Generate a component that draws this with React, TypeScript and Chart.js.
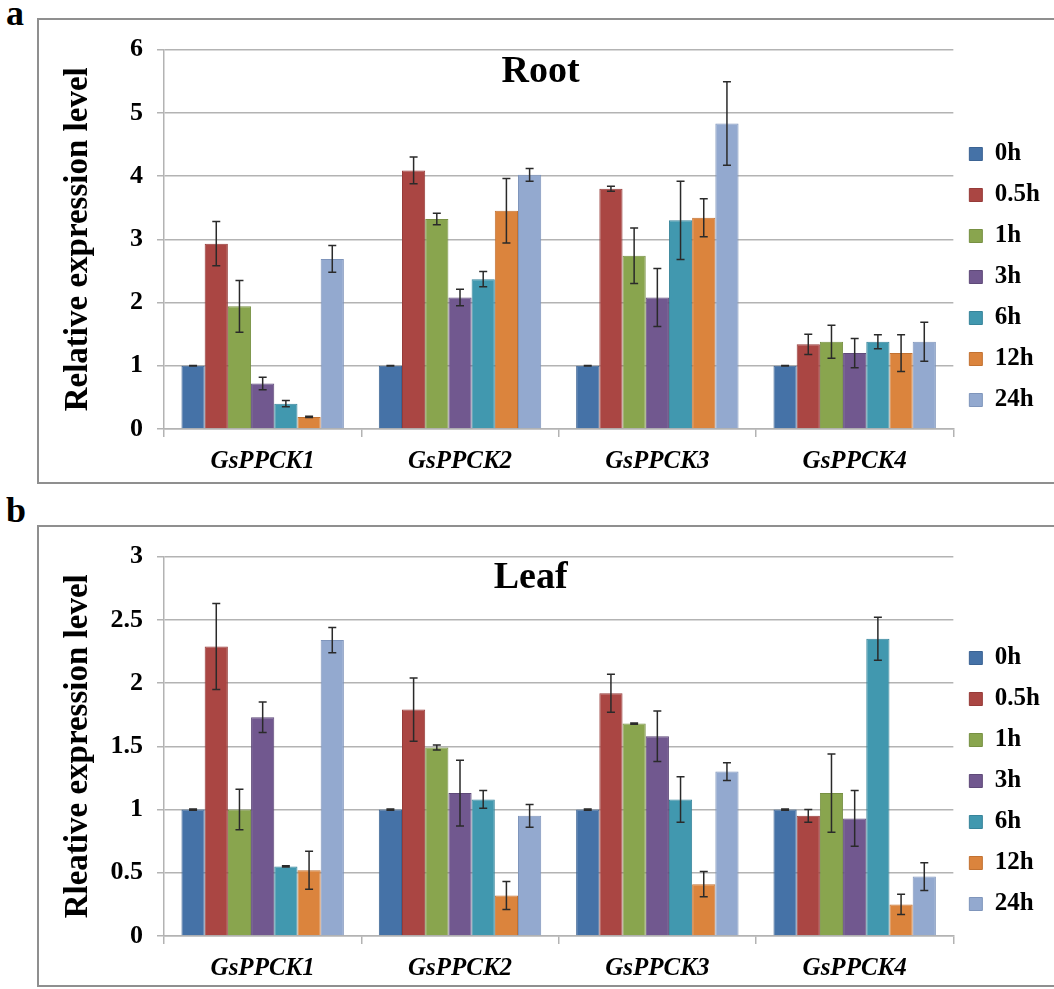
import React, { useEffect, useRef } from "react";
import { Chart, registerables } from "chart.js";

Chart.register(...registerables);

const FONT = '"Liberation Serif", "Times New Roman", serif';
const GRID = "#b3b3b3";

const genes = ["GsPPCK1", "GsPPCK2", "GsPPCK3", "GsPPCK4"];
const timePoints = ["0h", "0.5h", "1h", "3h", "6h", "12h", "24h"];
const seriesColors = ["#4572A7", "#AA4643", "#89A54E", "#71588F", "#4198AF", "#DB843D", "#93A9CF"];
const seriesBorders = ["#3b6393", "#963b39", "#779043", "#5f4a79", "#37849a", "#c27232", "#7f95bb"];

// Root (panel a) values per time point, across genes
const root0h = [1, 1, 1, 1];
const root05h = [2.93, 4.09, 3.8, 1.34];
const root1h = [1.94, 3.32, 2.74, 1.38];
const root3h = [0.72, 2.08, 2.08, 1.2];
const root6h = [0.4, 2.37, 3.3, 1.38];
const root12h = [0.19, 3.45, 3.34, 1.2];
const root24h = [2.69, 4.02, 4.83, 1.38];

const rootErr0h = [0.005, 0.005, 0.005, 0.005];
const rootErr05h = [0.35, 0.21, 0.04, 0.16];
const rootErr1h = [0.41, 0.09, 0.44, 0.26];
const rootErr3h = [0.1, 0.13, 0.46, 0.23];
const rootErr6h = [0.05, 0.12, 0.62, 0.11];
const rootErr12h = [0.01, 0.51, 0.3, 0.29];
const rootErr24h = [0.21, 0.1, 0.66, 0.31];

// Leaf (panel b)
const leaf0h = [1, 1, 1, 1];
const leaf05h = [2.29, 1.79, 1.92, 0.95];
const leaf1h = [1.0, 1.49, 1.68, 1.13];
const leaf3h = [1.73, 1.13, 1.58, 0.93];
const leaf6h = [0.55, 1.08, 1.08, 2.35];
const leaf12h = [0.52, 0.32, 0.41, 0.25];
const leaf24h = [2.34, 0.95, 1.3, 0.47];

const leafErr0h = [0.005, 0.005, 0.005, 0.005];
const leafErr05h = [0.34, 0.25, 0.15, 0.05];
const leafErr1h = [0.16, 0.02, 0.005, 0.31];
const leafErr3h = [0.12, 0.26, 0.2, 0.22];
const leafErr6h = [0.005, 0.07, 0.18, 0.17];
const leafErr12h = [0.15, 0.11, 0.1, 0.08];
const leafErr24h = [0.1, 0.09, 0.07, 0.11];

const rootTicks = [0, 1, 2, 3, 4, 5, 6];
const leafTicks = [0, 0.5, 1, 1.5, 2, 2.5, 3];

const rootValues = [root0h, root05h, root1h, root3h, root6h, root12h, root24h];
const rootErrors = [rootErr0h, rootErr05h, rootErr1h, rootErr3h, rootErr6h, rootErr12h, rootErr24h];
const leafValues = [leaf0h, leaf05h, leaf1h, leaf3h, leaf6h, leaf12h, leaf24h];
const leafErrors = [leafErr0h, leafErr05h, leafErr1h, leafErr3h, leafErr6h, leafErr12h, leafErr24h];

const errorBarPlugin = {
  id: "errorBars",
  afterDatasetsDraw(chart: any) {
    const { ctx } = chart;
    const yScale = chart.scales.y;
    chart.data.datasets.forEach((ds: any, i: number) => {
      const meta = chart.getDatasetMeta(i);
      if (meta.hidden) return;
      meta.data.forEach((bar: any, j: number) => {
        const v = ds.data[j];
        const e = ds.errors[j];
        const yTop = yScale.getPixelForValue(v + e);
        const yBot = yScale.getPixelForValue(v - e);
        ctx.save();
        ctx.strokeStyle = "#2a2a2a";
        ctx.lineWidth = 1.5;
        ctx.beginPath();
        ctx.moveTo(bar.x, yTop);
        ctx.lineTo(bar.x, yBot);
        ctx.moveTo(bar.x - 4, yTop);
        ctx.lineTo(bar.x + 4, yTop);
        ctx.moveTo(bar.x - 4, yBot);
        ctx.lineTo(bar.x + 4, yBot);
        ctx.stroke();
        ctx.restore();
      });
    });
  },
};

const panelTitlePlugin = {
  id: "panelTitle",
  afterDraw(chart: any, _args: any, opts: any) {
    const { ctx, chartArea } = chart;
    ctx.save();
    ctx.font = `bold ${opts.size}px ${FONT}`;
    ctx.fillStyle = "#000";
    ctx.textAlign = "center";
    ctx.textBaseline = "middle";
    ctx.fillText(opts.text, (chartArea.left + chartArea.right) / 2 + opts.dx, chartArea.top + opts.dy);
    ctx.restore();
  },
};

type PanelProps = {
  title: string;
  yTitle: string;
  values: number[][];
  errors: number[][];
  ticks: number[];
  max: number;
  top: number;
  height: number;
  titleDx: number;
  titleDy: number;
};

function ChartPanel(p: PanelProps) {
  const ref = useRef<HTMLCanvasElement | null>(null);
  useEffect(() => {
    if (!ref.current) return;
    const datasets = timePoints.map((t, i) => ({
      label: t,
      data: p.values[i],
      errors: p.errors[i],
      backgroundColor: seriesColors[i],
      borderColor: seriesBorders[i],
      borderWidth: 1,
      categoryPercentage: 0.823,
      barPercentage: 1,
    }));
    const chart = new Chart(ref.current, {
      type: "bar",
      data: { labels: genes, datasets: datasets as any },
      plugins: [errorBarPlugin, panelTitlePlugin],
      options: {
        responsive: false,
        animation: false,
        layout: { padding: { top: 22, right: 4, left: 0, bottom: 0 } },
        plugins: {
          tooltip: { enabled: false },
          legend: {
            position: "right",
            align: "center",
            title: { display: true, text: " ", font: { size: 25 }, padding: 0 },
            labels: {
              boxWidth: 13,
              boxHeight: 13,
              padding: 16,
              color: "#000",
              font: { family: FONT, size: 25, weight: "bold" },
            },
          },
          panelTitle: { text: p.title, size: 38, dx: p.titleDx, dy: p.titleDy },
        } as any,
        scales: {
          x: {
            grid: { drawOnChartArea: false, tickLength: 8, color: GRID, lineWidth: 1.5 },
            border: { color: GRID, width: 1.5 },
            ticks: {
              color: "#000",
              padding: 10,
              font: { family: FONT, size: 25, weight: "bold", style: "italic" },
            },
            afterFit: (s: any) => {
              s.height = p.height - 409;
            },
          },
          y: {
            min: 0,
            max: p.max,
            afterBuildTicks: (s: any) => {
              s.ticks = p.ticks.map((v) => ({ value: v }));
            },
            ticks: {
              color: "#000",
              padding: 14,
              font: { family: FONT, size: 26, weight: "bold" },
              callback: (v: any) => String(v),
            },
            grid: { color: GRID, lineWidth: 1.5, tickLength: 7 },
            border: { color: GRID, width: 1.5 },
            title: {
              display: true,
              text: p.yTitle,
              color: "#000",
              font: { family: FONT, size: 33, weight: "bold" },
              padding: { top: 19, bottom: 0 },
            },
            afterFit: (s: any) => {
              s.width = 124;
            },
          },
        } as any,
      },
    });
    return () => chart.destroy();
  }, []);
  return (
    <canvas
      ref={ref}
      width={1014}
      height={p.height}
      style={{ position: "absolute", left: 40, top: p.top, width: 1014, height: p.height }}
    />
  );
}

const boxStyle = (top: number, height: number): React.CSSProperties => ({
  position: "absolute",
  left: 37,
  top,
  width: 1030,
  height,
  boxSizing: "border-box",
  border: "2px solid #8f8f8f",
});

const letterStyle = (top: number): React.CSSProperties => ({
  position: "absolute",
  left: 6,
  top,
  fontFamily: FONT,
  fontWeight: "bold",
  fontSize: 36,
  lineHeight: "36px",
  color: "#000",
});

export default function App() {
  return (
    <div
      style={{
        position: "absolute",
        left: 0,
        top: 0,
        width: 1054,
        height: 989,
        overflow: "hidden",
        background: "#fff",
      }}
    >
      <div style={letterStyle(-5)}>a</div>
      <div style={boxStyle(18, 466)} />
      <ChartPanel
        title="Root"
        yTitle="Relative expression level"
        values={rootValues}
        errors={rootErrors}
        ticks={rootTicks}
        max={6}
        top={20}
        height={462}
        titleDx={-18}
        titleDy={23}
      />
      <div style={letterStyle(492)}>b</div>
      <div style={boxStyle(525, 462)} />
      <ChartPanel
        title="Leaf"
        yTitle="Rleative expression level"
        values={leafValues}
        errors={leafErrors}
        ticks={leafTicks}
        max={3}
        top={527}
        height={456}
        titleDx={-28}
        titleDy={22}
      />
    </div>
  );
}
